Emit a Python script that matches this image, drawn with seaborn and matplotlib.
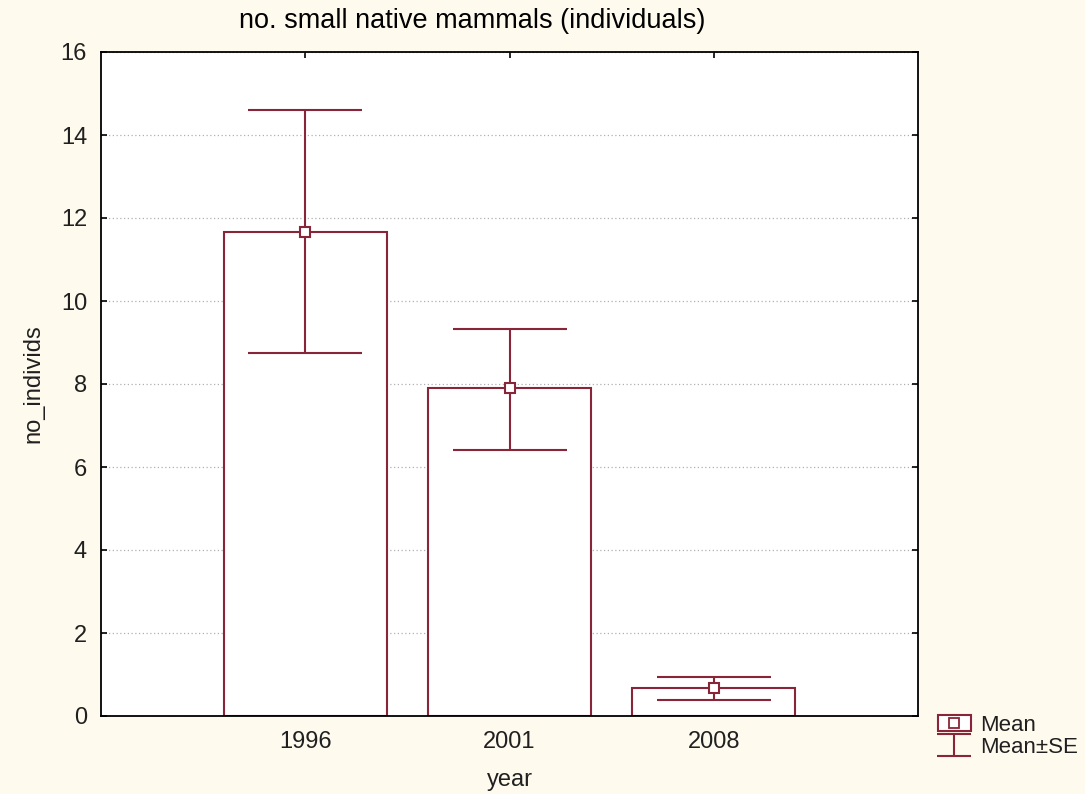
import numpy as np
import pandas as pd
import matplotlib
matplotlib.use('Agg')
import matplotlib.pyplot as plt
import seaborn as sns
from matplotlib.patches import Patch
from matplotlib.lines import Line2D

# data
years = ['1996', '2001', '2008']
means = [11.67, 7.90, 0.67]
se_upper = [14.60, 9.33, 0.95]
se_lower = [8.75, 6.40, 0.38]

red = '#882538'
bg = '#fefaee'

df = pd.DataFrame({'year': years, 'no_individs': means})

sns.set_theme(style='white')
plt.rcParams['font.family'] = ['Liberation Sans', 'DejaVu Sans']

fig = plt.figure(figsize=(10.85, 7.94), dpi=100, facecolor=bg)
ax = fig.add_axes([101/1085, 1-716/794, 817/1085, 664/794])
ax.set_facecolor('white')

sns.barplot(data=df, x='year', y='no_individs', color='white',
            edgecolor=red, linewidth=1.5, width=0.8, errorbar=None, ax=ax)

xpos = np.arange(len(years))
lo = np.array(means) - np.array(se_lower)
hi = np.array(se_upper) - np.array(means)
ax.errorbar(xpos, means, yerr=[lo, hi], fmt='none', ecolor=red,
            elinewidth=1.5, capsize=41, capthick=1.5, zorder=3)
ax.plot(xpos, means, linestyle='none', marker='s', markersize=7,
        markerfacecolor='white', markeredgecolor=red, markeredgewidth=1.5, zorder=4)

ax.set_xlim(-1, 3)
ax.set_ylim(0, 16)
ax.set_yticks(range(0, 17, 2))
ax.yaxis.grid(True, linestyle=(0, (1, 2)), color='#b0b0b0', linewidth=0.9)
ax.set_axisbelow(True)
for s in ax.spines.values():
    s.set_color('black')
    s.set_linewidth(1.3)
    s.set_visible(True)
ax.tick_params(direction='in', length=4, width=1.2, color='black',
               top=True, right=True, bottom=True, left=True,
               labelsize=17, labelcolor='#202020')
ax.tick_params(axis='x', pad=11)
ax.tick_params(axis='y', pad=10)

ax.set_xlabel('year', fontsize=17, color='#202020', labelpad=11)
ax.set_ylabel('no_individs', fontsize=17, color='#202020', labelpad=12)
# title sits a bit left of the axes centre in the original
fig.text(472/1085, 1-21/794, 'no. small native mammals (individuals)',
         fontsize=19.5, color='black', ha='center', va='center')

# legend outside bottom right
mean_h = (Patch(facecolor='white', edgecolor=red, linewidth=1.5),
          Line2D([], [], linestyle='none', marker='s', markersize=7,
                 markerfacecolor='white', markeredgecolor=red, markeredgewidth=1.3))
se_h = ax.errorbar([np.nan], [np.nan], yerr=[1], fmt='none', ecolor=red,
                   elinewidth=1.5, capsize=12, capthick=1.5)
leg = fig.legend([mean_h, se_h], ['Mean', 'Mean\u00b1SE'],
                 loc='upper left', bbox_to_anchor=(922/1085, 1-699/794),
                 frameon=False, fontsize=16, handlelength=1.5,
                 handletextpad=0.4, labelspacing=0.05, borderpad=0.2)
for t in leg.get_texts():
    t.set_color('#202020')

fig.savefig('out.png', dpi=100, facecolor=bg)
